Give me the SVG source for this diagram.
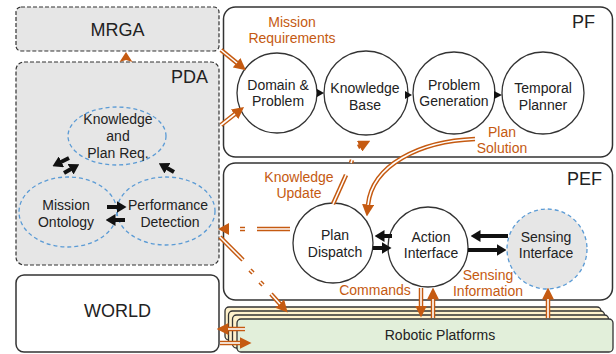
<svg xmlns="http://www.w3.org/2000/svg" width="616" height="354" viewBox="0 0 616 354">
<defs>
<style>
text{font-family:"Liberation Sans",Arial,sans-serif;fill:#222;}
.big{font-size:18px;}
.n{font-size:14px;text-anchor:middle;}
.o{font-size:14px;text-anchor:middle;fill:#c55a11;}
.dash{fill:#e6e6e6;stroke:#333;stroke-width:1.2;stroke-dasharray:4 2;}
.box{fill:#fff;stroke:#333;stroke-width:1.5;}
.circ{fill:#fff;stroke:#333;stroke-width:1.3;}
.ell{fill:none;stroke:#5b9bd5;stroke-width:1.3;stroke-dasharray:4 3;}
.oa{fill:none;stroke:#c55a11;stroke-width:4.5;}
.oi{fill:none;stroke:#fff;stroke-width:1.6;}
.ba{fill:none;stroke:#111;stroke-width:4;}
.plat{fill:#fff2cc;stroke:#333;stroke-width:1.3;}
</style>
<marker id="oh" markerUnits="userSpaceOnUse" markerWidth="12" markerHeight="12" viewBox="0 0 12 12" refX="0.5" refY="6" orient="auto"><path d="M0,0 L12,6 L0,12 z" fill="#c55a11"/></marker>
<marker id="bh" markerUnits="userSpaceOnUse" markerWidth="10" markerHeight="12" viewBox="0 0 10 12" refX="0.5" refY="6" orient="auto"><path d="M0,0 L10,6 L0,12 z" fill="#111"/></marker>
</defs>

<g id="mrga"><rect class="dash" x="16" y="7" width="203" height="44" rx="5"/><text class="big" x="117.5" y="36" text-anchor="middle">MRGA</text></g>
<g id="pda"><rect class="dash" x="16" y="62" width="203" height="203" rx="8"/><text class="big" x="208" y="83" text-anchor="end">PDA</text></g>
<g id="pf"><rect class="box" x="223.5" y="7" width="389" height="150" rx="12"/><text class="big" x="595" y="28" text-anchor="end">PF</text></g>
<g id="pef"><rect class="box" x="223.5" y="163" width="389" height="137" rx="12"/><text class="big" x="602" y="185" text-anchor="end">PEF</text></g>
<g id="world"><rect class="box" x="16" y="275" width="203" height="77" rx="8"/><text class="big" x="117.5" y="317" text-anchor="middle">WORLD</text></g>

<g id="robotic-platforms">
<rect class="plat" x="225" y="307" width="376" height="33" rx="4"/>
<rect class="plat" x="228.5" y="311" width="376" height="33" rx="4"/>
<rect class="plat" x="232.5" y="315" width="376" height="33" rx="4"/>
<rect x="237" y="319" width="376" height="33" rx="4" fill="#e2efda" stroke="#333" stroke-width="1.3"/>
<text class="n" x="440" y="340">Robotic Platforms</text>
</g>

<g id="knowledge-plan-req"><ellipse class="ell" cx="117" cy="136" rx="49" ry="29"/><text class="n" x="118" y="124">Knowledge</text><text class="n" x="118" y="141">and</text><text class="n" x="118" y="158">Plan Req.</text></g>
<g id="mission-ontology"><ellipse class="ell" cx="68" cy="212" rx="49" ry="35"/><text class="n" x="66" y="210">Mission</text><text class="n" x="66" y="227">Ontology</text></g>
<g id="performance-detection"><ellipse class="ell" cx="166" cy="211" rx="49" ry="34"/><text class="n" x="168" y="210">Performance</text><text class="n" x="170" y="227">Detection</text></g>

<g id="domain-problem"><circle class="circ" cx="277" cy="93" r="40"/><text class="n" x="278" y="90">Domain &amp;</text><text class="n" x="278" y="106">Problem</text></g>
<g id="knowledge-base"><circle class="circ" cx="366" cy="93" r="42"/><text class="n" x="365" y="93">Knowledge</text><text class="n" x="365" y="110">Base</text></g>
<g id="problem-generation"><circle class="circ" cx="454" cy="93" r="41"/><text class="n" x="454" y="90">Problem</text><text class="n" x="454" y="106">Generation</text></g>
<g id="temporal-planner"><circle class="circ" cx="543" cy="93" r="41"/><text class="n" x="543" y="93">Temporal</text><text class="n" x="543" y="110">Planner</text></g>

<g id="plan-dispatch"><circle class="circ" cx="333" cy="243" r="40"/><text class="n" x="335" y="240">Plan</text><text class="n" x="335" y="257">Dispatch</text></g>
<g id="action-interface"><circle class="circ" cx="428" cy="247" r="40"/><text class="n" x="431" y="242">Action</text><text class="n" x="431" y="258">Interface</text></g>
<g id="sensing-interface"><circle cx="547" cy="249" r="40" fill="#e6e6e6" stroke="#5b9bd5" stroke-width="1.3" stroke-dasharray="4 3"/><text class="n" x="546" y="242">Sensing</text><text class="n" x="546" y="258">Interface</text></g>

<g id="labels">
<text class="o" x="292" y="27">Mission</text>
<text class="o" x="292" y="43">Requirements</text>
<text class="o" x="502" y="137">Plan</text>
<text class="o" x="502" y="153">Solution</text>
<text class="o" x="299" y="182">Knowledge</text>
<text class="o" x="299" y="198">Update</text>
<text class="o" x="375" y="295">Commands</text>
<text class="o" x="488" y="280">Sensing</text>
<text class="o" x="488" y="296">Information</text>
</g>

<g id="connectors">
<!-- orange double arrows -->
<path d="M126,60 L119.5,62 L126,52 L132.5,62 z" fill="#c55a11"/>
<path class="oa" d="M221,50 L237,63" marker-end="url(#oh)"/>
<path class="oa" d="M221,125 L235,114" marker-end="url(#oh)"/>
<path class="oa" d="M475,139 C420,141 372,165 368,205" marker-end="url(#oh)"/>
<path class="oa" d="M333,204 L346,175"/>
<path class="oa" d="M351,163 L352,160"/>
<path class="oa" d="M358,147 L360,146" marker-end="url(#oh)"/>
<path class="oa" d="M290,229 L257,229"/>
<path class="oa" d="M245,229 L240,229"/>
<path d="M218,229 L229,223 L229,235 z" fill="#c55a11"/>
<path class="oa" d="M220,237 L243,260"/>
<path class="oa" d="M250,270 L253,273"/>
<path class="oa" d="M260,282 L263,285"/>
<path class="oa" d="M271,294 L280,304" marker-end="url(#oh)"/>
<path class="oa" d="M245,329 L228,329" marker-end="url(#oh)"/>
<path class="oa" d="M220,343 L240,343" marker-end="url(#oh)"/>
<path class="oa" d="M421,288 L421,306" marker-end="url(#oh)"/>
<path class="oa" d="M433,318 L433,299" marker-end="url(#oh)"/>
<path class="oa" d="M548,318 L548,299" marker-end="url(#oh)"/>
<!-- white cores -->
<path class="oi" d="M221,50 L237,63"/>
<path class="oi" d="M221,125 L235,114"/>
<path class="oi" d="M475,139 C420,141 372,165 368,205"/>
<path class="oi" d="M333,204 L346,175"/>
<path class="oi" d="M351,163 L352,160"/>
<path class="oi" d="M290,229 L257,229"/>
<path class="oi" d="M245,229 L240,229"/>
<path class="oi" d="M220,237 L243,260"/>
<path class="oi" d="M250,270 L253,273"/>
<path class="oi" d="M260,282 L263,285"/>
<path class="oi" d="M271,294 L280,304"/>
<path class="oi" d="M245,329 L228,329"/>
<path class="oi" d="M220,343 L240,343"/>
<path class="oi" d="M421,288 L421,306"/>
<path class="oi" d="M433,318 L433,299"/>
<path class="oi" d="M548,318 L548,299"/>
<!-- black small heads in PF -->
<path d="M317,89 L324,93 L317,97 z" fill="#111"/>
<path d="M405,91 L412,95 L405,99 z" fill="#111"/>
<path d="M494,91 L502,95 L494,99 z" fill="#111"/>
<!-- black arrows PEF -->
<path class="ba" d="M392,236 L384,236" marker-end="url(#bh)"/>
<path class="ba" d="M373,248 L382,248" marker-end="url(#bh)"/>
<path class="ba" d="M508,236 L480,236" marker-end="url(#bh)"/>
<path class="ba" d="M468,250 L497,250" marker-end="url(#bh)"/>
<!-- black arrows PDA -->
<path class="ba" d="M107,207 L117,207" marker-end="url(#bh)"/>
<path class="ba" d="M125,220 L115,220" marker-end="url(#bh)"/>
<path class="ba" d="M69,158 L61,162" marker-end="url(#bh)"/>
<path class="ba" d="M64,173 L71,169" marker-end="url(#bh)"/>
<path class="ba" d="M174,172 L167,168" marker-end="url(#bh)"/>
</g>
</svg>
